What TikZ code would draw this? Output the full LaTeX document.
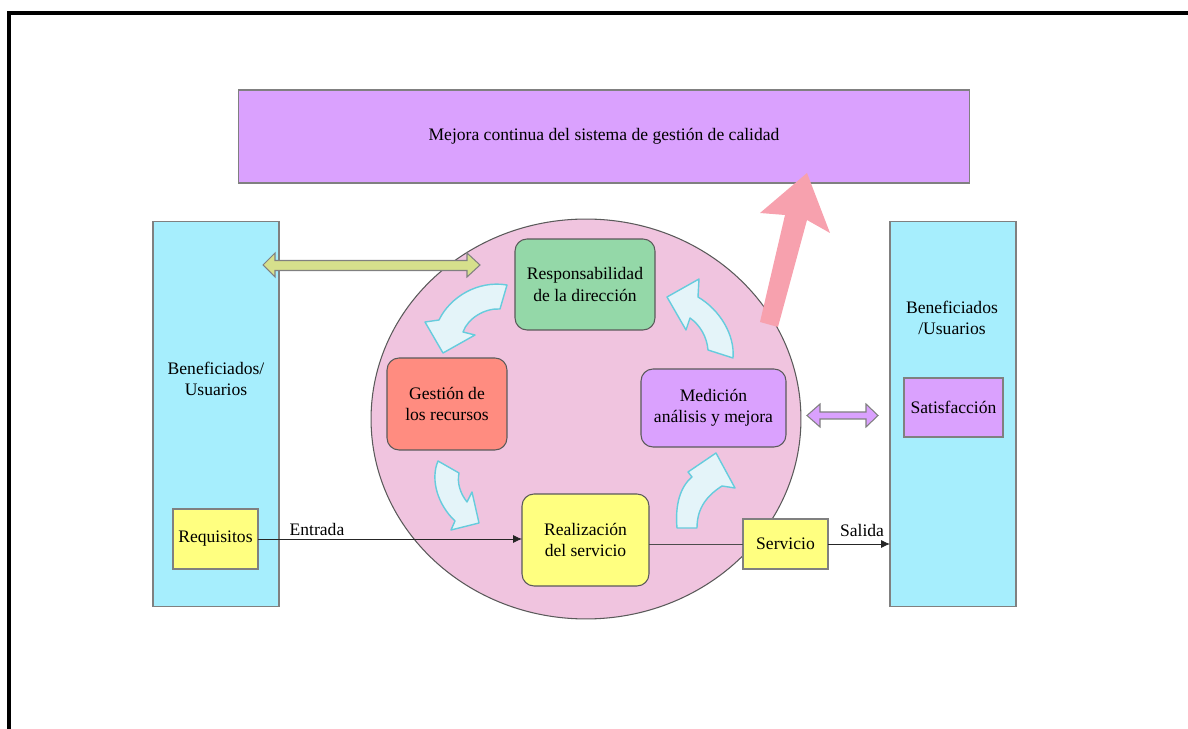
\documentclass[tikz,border=0pt]{standalone}
\usepackage{fontspec}
\setmainfont{Liberation Serif}
\usetikzlibrary{shapes.geometric,arrows.meta}

\definecolor{violet}{RGB}{218,161,254}
\definecolor{sky}{RGB}{166,238,253}
\definecolor{lemon}{RGB}{255,255,128}
\definecolor{mint}{RGB}{148,216,168}
\definecolor{salmon}{RGB}{255,140,128}
\definecolor{blush}{RGB}{240,196,223}
\definecolor{ice}{RGB}{228,244,249}
\definecolor{iceline}{RGB}{102,204,221}
\definecolor{olive}{RGB}{214,224,140}
\definecolor{rose}{RGB}{247,161,174}
\definecolor{boxline}{RGB}{128,128,128}
\definecolor{stageline}{RGB}{90,90,90}

\begin{document}
\begin{tikzpicture}[x=0.02cm,y=-0.02cm,
  txt/.style={font=\fontsize{10}{12}\selectfont, align=center, inner sep=0pt},
  box/.style={txt, draw=boxline, line width=0.6pt, outer sep=0pt},
  stage/.style={box, draw=stageline, rounded corners=0.24cm},
  flow/.style={draw=black!85, line width=0.5pt, -{Latex[length=5pt,width=4.5pt]}},
  link/.style={draw=black!70, line width=0.5pt},
  turn/.style={fill=ice, draw=iceline, line width=0.8pt, line join=round},
  band/.style={draw=boxline, line width=0.6pt, line join=miter}]

\useasboundingbox (0,0) rectangle (1188,729);

% page frame (top and left edges)
\draw[line width=0.07cm] (1188,13) -- (9,13) -- (9,729);

% goal banner
\node[box, fill=violet, minimum width=14.64cm, minimum height=1.86cm]
  (goal) at (604,136.5) {Mejora continua del sistema de gestión de calidad};

% stakeholders on both sides
\node[box, fill=sky, minimum width=2.52cm, minimum height=7.72cm] (lbox) at (216,414) {};
\node[box, fill=sky, minimum width=2.52cm, minimum height=7.72cm] (rbox) at (953,414) {};
\node[txt] (ltxt) at (216,379) {Beneficiados/\\Usuarios};
\node[txt] (rtxt) at (952,318) {Beneficiados\\/Usuarios};
\node[box, fill=lemon, minimum width=1.70cm, minimum height=1.20cm] (req) at (215.5,539) {Requisitos};
\node[box, fill=violet, minimum width=1.98cm, minimum height=1.18cm] (sat) at (953.5,407.5) {Satisfacción};

% process cycle
\node[ellipse, draw=stageline, line width=0.6pt, fill=blush, inner sep=0pt,
  minimum width=8.6cm, minimum height=8cm] (cycle) at (586,419) {};

% information exchange with the left stakeholders
\filldraw[band, fill=olive] (263,265) -- (275,253) -- (275,260.5) -- (467,260.5) -- (467,253)
  -- (480,265) -- (467,277) -- (467,270.5) -- (275,270.5) -- (275,277) -- cycle;

\node[stage, fill=mint, minimum width=2.80cm, minimum height=1.82cm] (resp) at (585,284.5) {Responsabilidad\\de la dirección};
\node[stage, fill=salmon, minimum width=2.40cm, minimum height=1.84cm] (rec) at (447,404) {Gestión de\\los recursos};
\node[stage, fill=violet, minimum width=2.90cm, minimum height=1.56cm] (med) at (713.5,408) {Medición\\análisis y mejora};
\node[stage, fill=lemon, minimum width=2.54cm, minimum height=1.84cm] (real) at (585.5,540) {Realización\\del servicio};
\node[box, fill=lemon, minimum width=1.70cm, minimum height=1.00cm] (serv) at (785.5,544) {Servicio};

% curved arrows of the cycle
\filldraw[turn] (507,285) .. controls (478,280) and (450,297) .. (439,320) -- (425,322) -- (443,353)
  -- (475,335) -- (463,332) .. controls (468,318) and (485,308) .. (500,309) -- cycle;
\filldraw[turn] (438,461) .. controls (430,480) and (438,505) .. (455,521) -- (451,530) -- (479,523)
  -- (472,492) -- (467,502) .. controls (460,493) and (457,483) .. (459,473) -- cycle;
\filldraw[turn] (677,528) .. controls (675,505) and (680,487) .. (692,477) -- (688,472) -- (716,453)
  -- (735,488) -- (722,486) .. controls (708,495) and (697,507) .. (697,528) -- cycle;
\filldraw[turn] (733,358) .. controls (735,335) and (720,310) .. (698,297) -- (699,279) -- (667,297)
  -- (686,330) -- (690,318) .. controls (700,325) and (707,337) .. (708,350) -- cycle;

% improvement arrow towards the banner
\fill[rose] (760,322) -- (785,215) -- (760,213) -- (807,173) -- (830,233) -- (807,220)
  -- (778,327) -- cycle;

% feedback with the right stakeholders
\filldraw[band, fill=violet] (807,415.5) -- (820,404) -- (820,412) -- (866,412) -- (866,404)
  -- (878,415.5) -- (866,427) -- (866,419) -- (820,419) -- (820,427) -- cycle;

% service flow
\draw[flow] (req.east) -- (req.east -| real.west);
\draw[link] (real.east |- serv.west) -- (serv.west);
\draw[flow] (serv.east) -- (serv.east -| rbox.west);
\node[txt] (inlbl) at (317,529) {Entrada};
\node[txt] (outlbl) at (862,530) {Salida};

\end{tikzpicture}
\end{document}
